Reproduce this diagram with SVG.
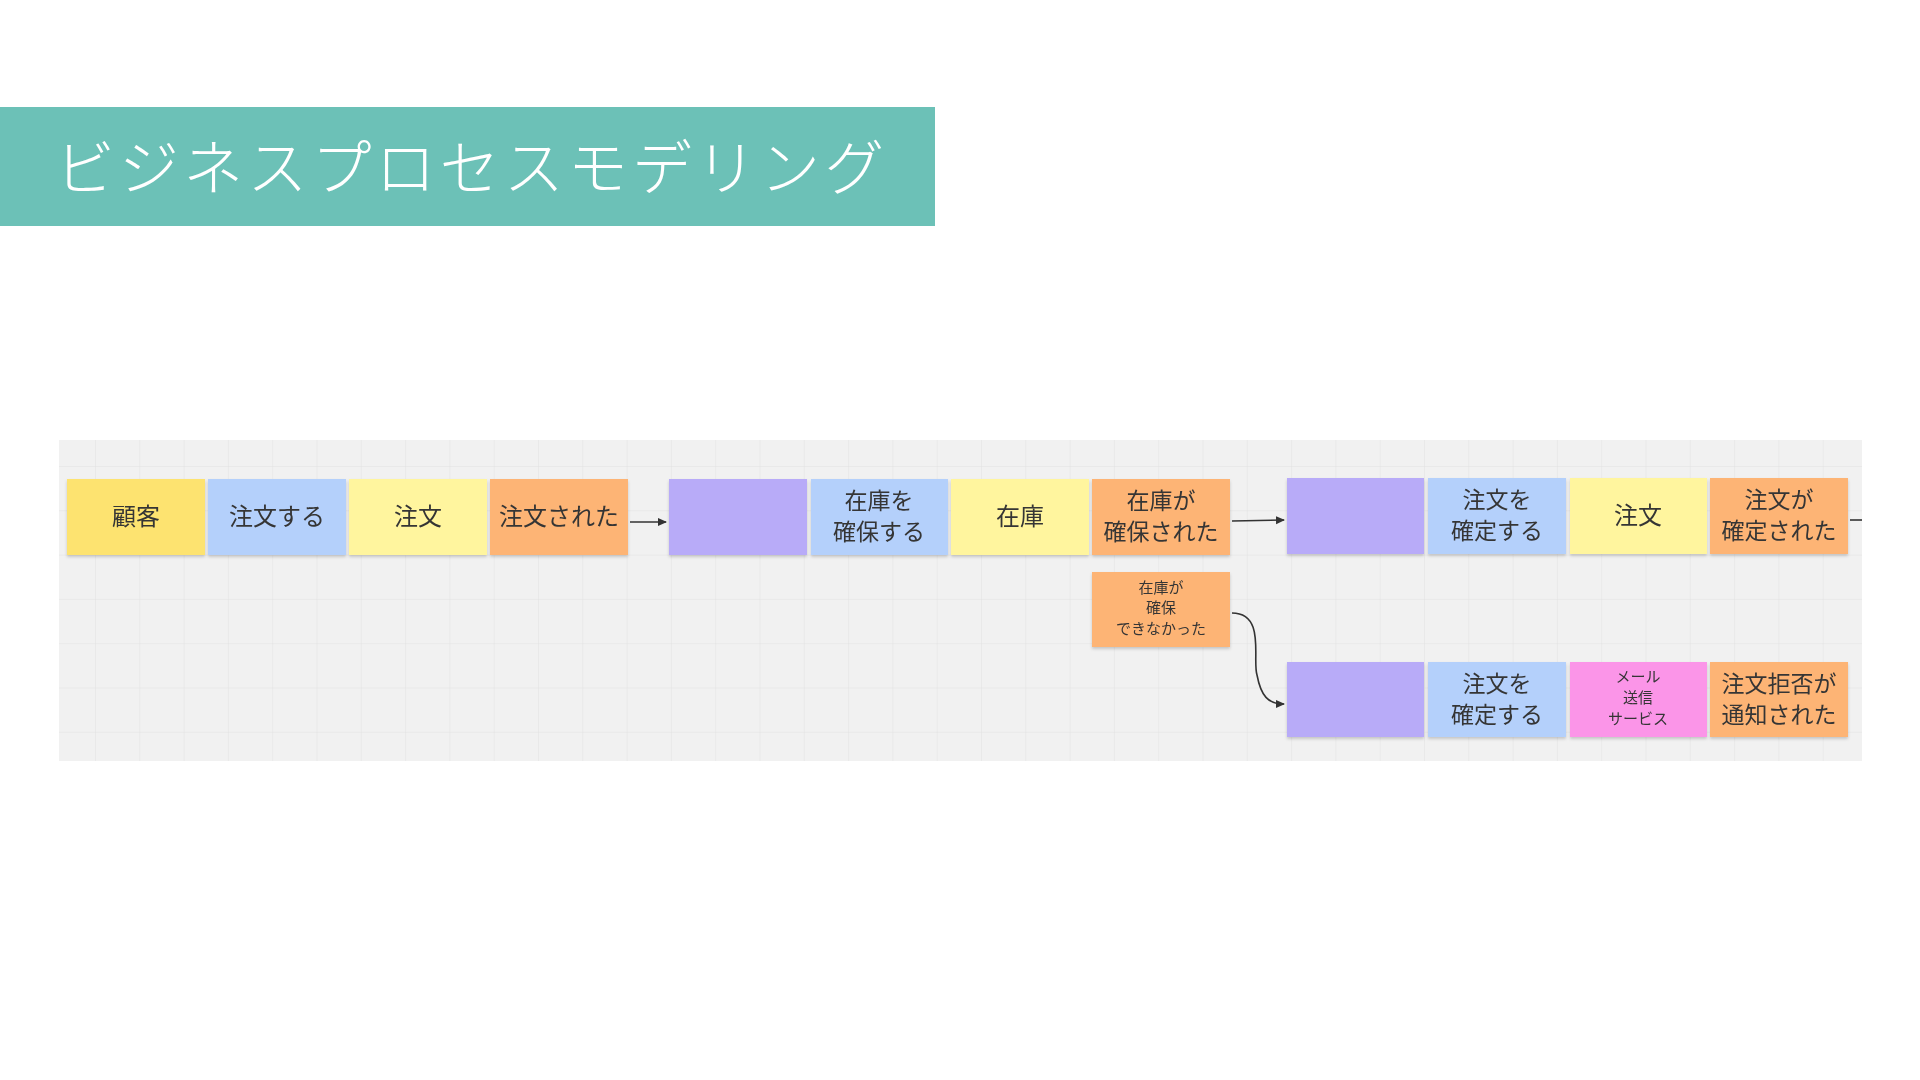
<svg xmlns="http://www.w3.org/2000/svg" width="1920" height="1080" viewBox="0 0 1920 1080">
<style>
.t{font-family:"Noto Sans CJK JP","Noto Sans",sans-serif;fill:#353535;text-anchor:middle}
.m{font-size:24px}
.d{font-size:23px}
.s{font-size:15px}
.y1{fill:#fde370}.bl{fill:#b4d0fb}.y2{fill:#fff59e}.or{fill:#fdb475}.pu{fill:#b8abf8}.pk{fill:#fb95e8}
.c{fill:none;stroke:#333;stroke-width:1.6}
</style>
<defs>
<pattern id="grid" x="6.4" y="23" width="44.3" height="44.3" patternUnits="userSpaceOnUse">
<path d="M0 0H44.3M0 0V44.3" fill="none" stroke="#e1e1e1" stroke-width="1"/>
</pattern>
<filter id="sh" x="-10%" y="-10%" width="120%" height="130%">
<feDropShadow dx="0" dy="2" stdDeviation="1.5" flood-color="#000" flood-opacity="0.18"/>
</filter>
<marker id="ah" markerWidth="10" markerHeight="10" refX="8" refY="5" orient="auto" markerUnits="userSpaceOnUse">
<path d="M0 1L9 5L0 9Z" fill="#333"/>
</marker>
</defs>
<rect width="1920" height="1080" fill="#ffffff"/>
<g id="title">
<rect x="0" y="107" width="935" height="119" fill="#6cc1b7"/>
<text x="55" y="190" font-family="'Noto Sans CJK JP','Noto Sans',sans-serif" font-weight="300" font-size="60" letter-spacing="4.1" fill="#ffffff">ビジネスプロセスモデリング</text>
</g>
<g id="board">
<rect x="59" y="440" width="1803" height="321" fill="#f1f1f1"/>
<rect x="59" y="440" width="1803" height="321" fill="url(#grid)"/>
</g>
<g id="connectors">
<line class="c" x1="630" y1="522" x2="666" y2="522" marker-end="url(#ah)"/>
<line class="c" x1="1232" y1="521" x2="1284" y2="520" marker-end="url(#ah)"/>
<line class="c" x1="1850" y1="520" x2="1862" y2="520"/>
<path class="c" d="M1232 613C1266 613 1252 660 1257 675C1261 696 1268 704 1284 704" marker-end="url(#ah)"/>
</g>
<g id="n1" filter="url(#sh)"><rect class="y1" x="67" y="479" width="138" height="76"/><text class="t m" x="136" y="525">顧客</text></g>
<g id="n2" filter="url(#sh)"><rect class="bl" x="208" y="479" width="138" height="76"/><text class="t m" x="277" y="525">注文する</text></g>
<g id="n3" filter="url(#sh)"><rect class="y2" x="349" y="479" width="138" height="76"/><text class="t m" x="418" y="525">注文</text></g>
<g id="n4" filter="url(#sh)"><rect class="or" x="490" y="479" width="138" height="76"/><text class="t m" x="559" y="525">注文された</text></g>
<g id="n5" filter="url(#sh)"><rect class="pu" x="669" y="479" width="138" height="76"/></g>
<g id="n6" filter="url(#sh)"><rect class="bl" x="811" y="479" width="137" height="76"/><text class="t d" x="879" y="509">在庫を</text><text class="t d" x="879" y="540">確保する</text></g>
<g id="n7" filter="url(#sh)"><rect class="y2" x="951" y="479" width="138" height="76"/><text class="t m" x="1020" y="525">在庫</text></g>
<g id="n8" filter="url(#sh)"><rect class="or" x="1092" y="479" width="138" height="76"/><text class="t d" x="1161" y="509">在庫が</text><text class="t d" x="1161" y="540">確保された</text></g>
<g id="n9" filter="url(#sh)"><rect class="pu" x="1287" y="478" width="137" height="76"/></g>
<g id="n10" filter="url(#sh)"><rect class="bl" x="1428" y="478" width="138" height="76"/><text class="t d" x="1497" y="508">注文を</text><text class="t d" x="1497" y="539">確定する</text></g>
<g id="n11" filter="url(#sh)"><rect class="y2" x="1570" y="478" width="137" height="76"/><text class="t m" x="1638" y="524">注文</text></g>
<g id="n12" filter="url(#sh)"><rect class="or" x="1710" y="478" width="138" height="76"/><text class="t d" x="1779" y="508">注文が</text><text class="t d" x="1779" y="539">確定された</text></g>
<g id="n13" filter="url(#sh)"><rect class="or" x="1092" y="572" width="138" height="75"/><text class="t s" x="1161" y="593">在庫が</text><text class="t s" x="1161" y="613">確保</text><text class="t s" x="1161" y="634">できなかった</text></g>
<g id="n14" filter="url(#sh)"><rect class="pu" x="1287" y="662" width="137" height="75"/></g>
<g id="n15" filter="url(#sh)"><rect class="bl" x="1428" y="662" width="138" height="75"/><text class="t d" x="1497" y="692">注文を</text><text class="t d" x="1497" y="723">確定する</text></g>
<g id="n16" filter="url(#sh)"><rect class="pk" x="1570" y="662" width="137" height="75"/><text class="t s" x="1638" y="682">メール</text><text class="t s" x="1638" y="703">送信</text><text class="t s" x="1638" y="724">サービス</text></g>
<g id="n17" filter="url(#sh)"><rect class="or" x="1710" y="662" width="138" height="75"/><text class="t d" x="1779" y="692">注文拒否が</text><text class="t d" x="1779" y="723">通知された</text></g>
</svg>
